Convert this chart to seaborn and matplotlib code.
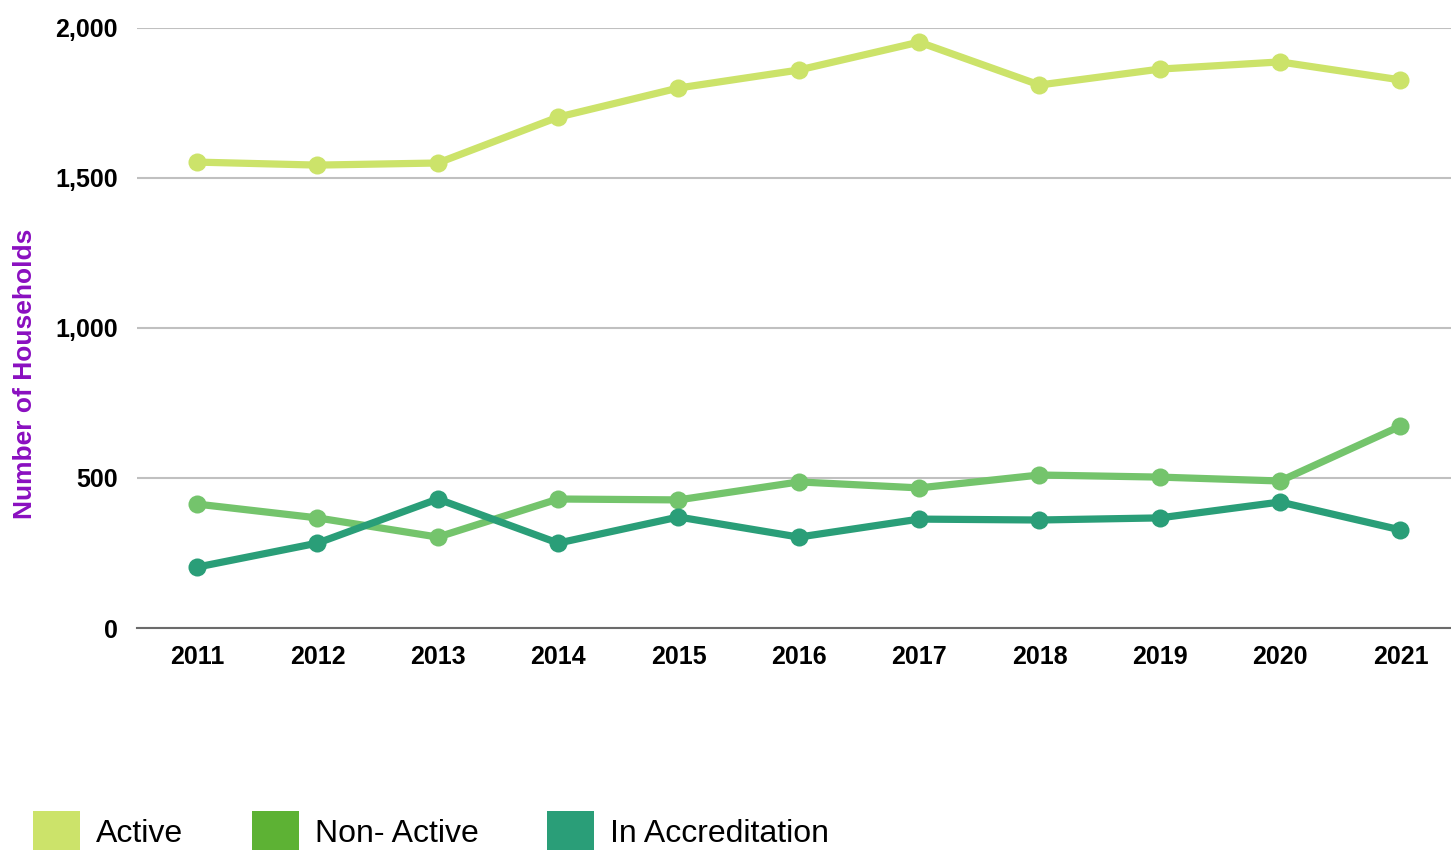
import numpy as np
import pandas as pd
import matplotlib
matplotlib.use("Agg")
import matplotlib.pyplot as plt
from matplotlib.patches import Patch
from matplotlib.ticker import FuncFormatter
import seaborn as sns

years = ["2011", "2012", "2013", "2014", "2015", "2016", "2017", "2018", "2019", "2020", "2021"]
active = [1553, 1543, 1550, 1703, 1800, 1860, 1953, 1810, 1863, 1887, 1827]
non_active = [413, 367, 303, 430, 427, 487, 467, 510, 503, 490, 673]
in_accreditation = [203, 283, 430, 283, 370, 303, 363, 360, 367, 420, 327]

series_names = ["Active", "Non- Active", "In Accreditation"]
line_colors = ["#cce36a", "#74c46c", "#2a9e78"]
legend_colors = ["#cce36a", "#5db234", "#2a9e78"]

sns.set_theme(style="white")
plt.rcParams["font.family"] = ["Liberation Sans", "DejaVu Sans"]
plt.rcParams["text.color"] = "black"

fig = plt.figure(figsize=(14.51, 8.5), dpi=100)
ax = fig.add_axes([137 / 1451, 1 - 628 / 850, (1451 - 137) / 1451, 600 / 850])

x = np.arange(len(years))
for name, vals, col in zip(series_names, [active, non_active, in_accreditation], line_colors):
    df = pd.DataFrame({"x": x, "y": vals})
    sns.lineplot(data=df, x="x", y="y", ax=ax, color=col, linewidth=5.2,
                 marker="o", markersize=13, markeredgewidth=0, clip_on=False)

ax.set_xlim(-0.5, 10.42)
ax.set_ylim(0, 2000)
ax.set_yticks([0, 500, 1000, 1500, 2000])
ax.yaxis.set_major_formatter(FuncFormatter(lambda v, p: f"{int(v):,}"))
ax.set_xticks(x)
ax.set_xticklabels(years)
ax.tick_params(axis="both", length=0, labelsize=18, colors="black")
ax.tick_params(axis="y", pad=14)
ax.tick_params(axis="x", pad=12)
for lab in ax.get_xticklabels() + ax.get_yticklabels():
    lab.set_fontweight("bold")

ax.grid(axis="y", color="#c0c0c0", linewidth=1.5)
ax.set_axisbelow(True)
for s in ["top", "right", "left"]:
    ax.spines[s].set_visible(False)
ax.spines["bottom"].set_color("#6b6b6b")
ax.spines["bottom"].set_linewidth(1.5)

ax.set_xlabel("")
ax.set_ylabel("Number of Households", color="#8a0fc0", fontsize=19,
              fontweight="bold", labelpad=0)
ax.yaxis.set_label_coords(-100 / 1314, (628 - 374) / 600)

handles = [Patch(facecolor=c, edgecolor="none") for c in legend_colors]
fig.legend(handles, series_names, loc="center left",
           bbox_to_anchor=(33 / 1451, 1 - 831 / 850), ncol=3, frameon=False,
           fontsize=23, labelcolor="black", handlelength=1.47, handleheight=1.55,
           handletextpad=0.5, columnspacing=2.15, borderpad=0, borderaxespad=0)

fig.savefig("out.png", dpi=100)
